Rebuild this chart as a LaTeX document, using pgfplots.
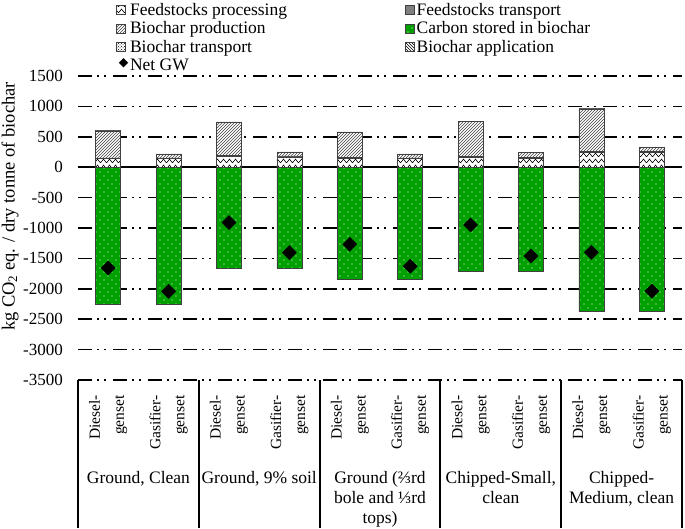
\documentclass[border=0pt]{standalone}
\usepackage{fontspec}
\setmainfont{Liberation Serif}
\usepackage{pgfplots}
\pgfplotsset{compat=1.18}
\usetikzlibrary{patterns}
\definecolor{cgreen}{RGB}{0,160,0}
\definecolor{edge}{RGB}{64,64,64}
\newcommand{\chartfont}{\fontsize{17.5}{20}\selectfont}
\newcommand{\tickfont}{\fontsize{17}{20}\selectfont}
\newcommand{\catfont}{\fontsize{15.5}{24}\selectfont}
\newcommand{\ylabfont}{\fontsize{18.5}{21}\selectfont}
\pgfdeclarepatternformonly{mywaves}{\pgfqpoint{0pt}{-1pt}}{\pgfqpoint{6pt}{5pt}}{\pgfqpoint{6pt}{6pt}}{%
  \pgfsetlinewidth{0.6pt}%
  \pgfpathmoveto{\pgfqpoint{0pt}{1pt}}%
  \pgfpathcurveto{\pgfqpoint{1pt}{3.5pt}}{\pgfqpoint{2pt}{3.5pt}}{\pgfqpoint{3pt}{1pt}}%
  \pgfpathcurveto{\pgfqpoint{4pt}{-1.5pt}}{\pgfqpoint{5pt}{-1.5pt}}{\pgfqpoint{6pt}{1pt}}%
  \pgfusepath{stroke}}
\pgfdeclarepatternformonly{sparsedots}{\pgfqpoint{-1pt}{-1pt}}{\pgfqpoint{7pt}{7pt}}{\pgfqpoint{8pt}{8pt}}{%
  \pgfpathcircle{\pgfqpoint{0pt}{0pt}}{0.6pt}%
  \pgfpathcircle{\pgfqpoint{4pt}{4pt}}{0.6pt}%
  \pgfusepath{fill}}
\begin{document}
\begin{tikzpicture}
\begin{axis}[
  scale only axis, width=604pt, height=304pt,
  clip=false,
  ymin=-3500, ymax=1500, ytick={-3500,-3000,...,1500},
  xmin=-0.5, xmax=9.5, xtick={0,...,9},
  xticklabels={{Diesel-\\genset},{Gasifier-\\genset},{Diesel-\\genset},{Gasifier-\\genset},{Diesel-\\genset},{Gasifier-\\genset},{Diesel-\\genset},{Gasifier-\\genset},{Diesel-\\genset},{Gasifier-\\genset}},
  ybar stacked, bar width=25pt,
  axis line style={draw=none}, major tick length=0pt,
  ymajorgrids,
  grid style={black, line width=1.5pt, dash pattern=on 14pt off 5pt on 2pt off 5pt on 2pt off 7pt},
  yticklabel style={font=\tickfont, inner sep=0pt, xshift=-15pt},
  xticklabel style={font=\catfont, rotate=90, anchor=east, align=right, inner xsep=15pt, inner ysep=0pt},
  /pgf/number format/assume math mode=true,
  /pgf/number format/1000 sep={},
  ylabel={kg CO\textsubscript{2} eq. / dry tonne of biochar},
  ylabel style={font=\ylabfont, at={(axis description cs:-0.1126,0.571)}, anchor=center},
  legend columns=2,
  legend style={draw=none, fill=none, font=\chartfont, at={(axis description cs:0.058,1.253)}, anchor=north west, /tikz/every even column/.append style={column sep=116pt}, row sep=0.8pt},
  legend cell align=left,
  legend image code/.code={\draw[#1] (0pt,-4.5pt) rectangle (9pt,4.5pt);},
]
% Feedstocks processing
\addplot[draw=edge, line width=0.6pt, fill=white, postaction={pattern=mywaves, pattern color=black}] coordinates
 {(0,140) (1,140) (2,180) (3,170) (4,150) (5,140) (6,160) (7,150) (8,240) (9,240)};
\addlegendentry{Feedstocks processing}
% Feedstocks transport
\addplot[draw=edge, line width=0.6pt, fill=gray] coordinates
 {(0,12) (1,12) (2,15) (3,15) (4,12) (5,12) (6,12) (7,12) (8,20) (9,20)};
\addlegendentry{Feedstocks transport}
% Biochar production
\addplot[draw=edge, line width=0.6pt, fill=white, postaction={pattern=north east lines, pattern color=black!75}] coordinates
 {(0,444) (1,61) (2,544) (3,61) (4,413) (5,61) (6,577) (7,77) (8,698) (9,60)};
\addlegendentry{Biochar production}
% Carbon stored in biochar
\addplot[stack plots=false, draw=edge, line width=0.6pt, fill=cgreen, postaction={pattern=sparsedots, pattern color=white}] coordinates
 {(0,-2260) (1,-2260) (2,-1656) (3,-1656) (4,-1849) (5,-1849) (6,-1705) (7,-1705) (8,-2365) (9,-2365)};
\addlegendentry{Carbon stored in biochar}
% Biochar transport
\addplot[draw=edge, line width=0.6pt, fill=white, postaction={pattern=crosshatch dots, pattern color=black}] coordinates
 {(0,4) (1,4) (2,4) (3,4) (4,4) (5,4) (6,4) (7,4) (8,5) (9,5)};
\addlegendentry{Biochar transport}
% Biochar application
\addplot[draw=edge, line width=0.6pt, fill=white, postaction={pattern=north west lines, pattern color=black}] coordinates
 {(0,2) (1,2) (2,2) (3,2) (4,2) (5,2) (6,2) (7,2) (8,2) (9,2)};
\addlegendentry{Biochar application}
% Net GW
\addplot[stack plots=false, sharp plot, only marks, mark=square*, mark size=5pt, mark options={rotate=45, fill=black, draw=black},
  legend image code/.code={\node[fill=black, minimum size=6.5pt, inner sep=0pt, rotate=45] at (4.5pt,0pt) {};}] coordinates
 {(0,-1658) (1,-2041) (2,-911) (3,-1404) (4,-1268) (5,-1630) (6,-950) (7,-1460) (8,-1400) (9,-2038)};
\addlegendentry{Net GW}
\draw[black, line width=2pt] (axis cs:-0.5,0) -- (axis cs:9.5,0);
\draw[black, line width=2pt] (axis cs:-0.5,-3500) -- ([yshift=-148pt]axis cs:-0.5,-3500);
\draw[black, line width=2pt] (axis cs:1.5,-3500) -- ([yshift=-148pt]axis cs:1.5,-3500);
\draw[black, line width=2pt] (axis cs:3.5,-3500) -- ([yshift=-148pt]axis cs:3.5,-3500);
\draw[black, line width=2pt] (axis cs:5.5,-3500) -- ([yshift=-148pt]axis cs:5.5,-3500);
\draw[black, line width=2pt] (axis cs:7.5,-3500) -- ([yshift=-148pt]axis cs:7.5,-3500);
\draw[black, line width=2pt] (axis cs:9.5,-3500) -- ([yshift=-148pt]axis cs:9.5,-3500);
\node[font=\chartfont, anchor=north, align=center, inner sep=0pt] at ([yshift=-91pt]axis cs:0.5,-3500) {Ground, Clean};
\node[font=\chartfont, anchor=north, align=center, inner sep=0pt] at ([yshift=-91pt]axis cs:2.5,-3500) {Ground, 9\% soil};
\node[font=\chartfont, anchor=north, align=center, inner sep=0pt] at ([yshift=-91pt]axis cs:4.5,-3500) {Ground (⅔rd\\bole and ⅓rd\\tops)};
\node[font=\chartfont, anchor=north, align=center, inner sep=0pt] at ([yshift=-91pt]axis cs:6.5,-3500) {Chipped-Small,\\clean};
\node[font=\chartfont, anchor=north, align=center, inner sep=0pt] at ([yshift=-91pt]axis cs:8.5,-3500) {Chipped-\\Medium, clean};
\end{axis}
\pgfresetboundingbox
\path[use as bounding box] (-78pt,-148pt) rectangle (607pt,380pt);
\end{tikzpicture}
\end{document}
